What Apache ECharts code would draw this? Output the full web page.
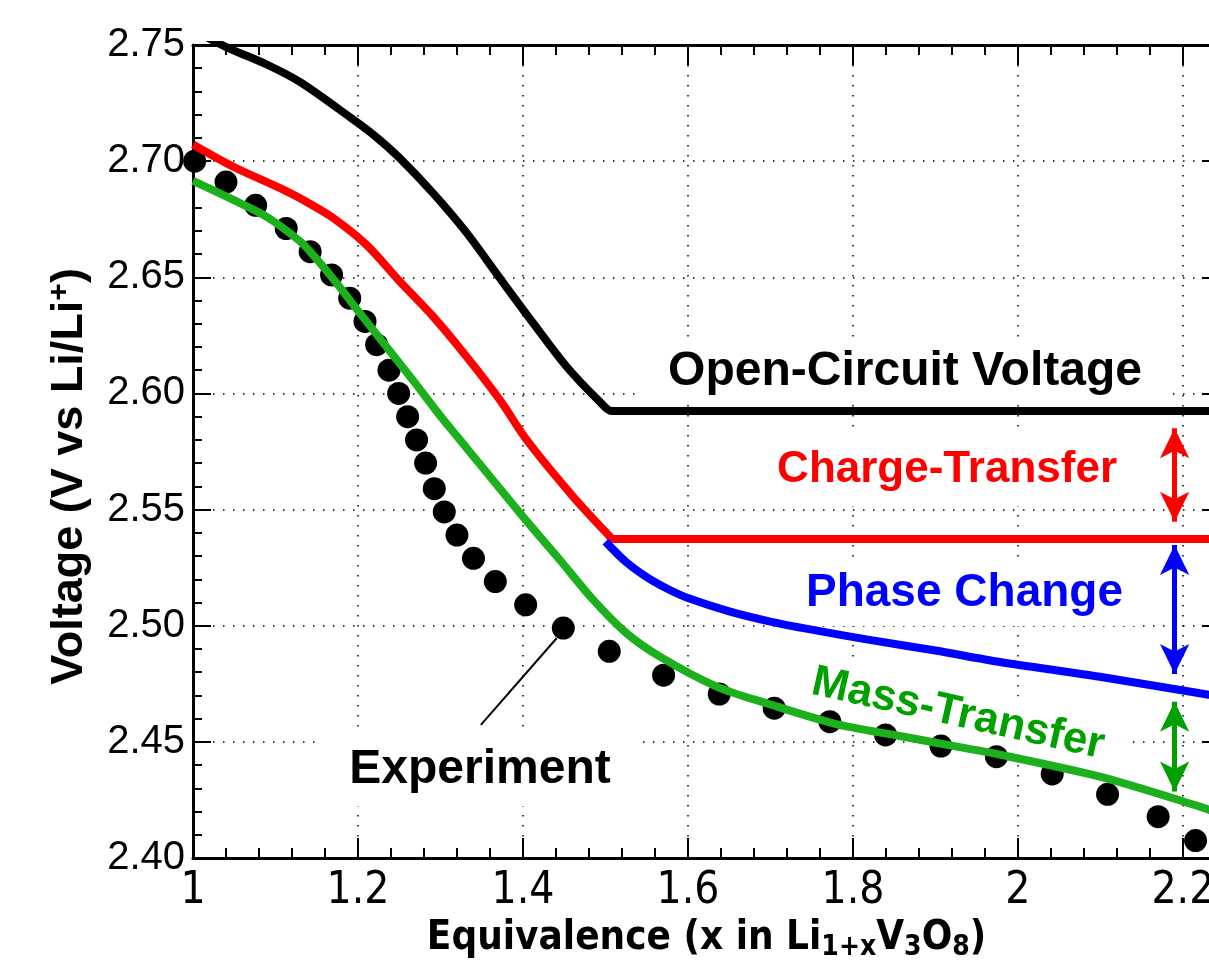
<!DOCTYPE html>
<html>
<head>
<meta charset="utf-8">
<title>Li1+xV3O8 discharge</title>
<script src="https://cdn.jsdelivr.net/npm/echarts@6/dist/echarts.min.js"></script>
<style>html,body{margin:0;padding:0;background:#fff}</style>
</head>
<body>
<div id="main" style="width:1209px;height:968px"></div>
<script>
// experiment points (x, voltage)
var expX = [1.002, 1.040, 1.076, 1.113, 1.142, 1.168, 1.190, 1.2085, 1.2226, 1.2376, 1.2493, 1.2602, 1.271,
            1.282, 1.2925, 1.3046, 1.320, 1.340, 1.3665, 1.4033, 1.4489, 1.5046, 1.5705, 1.638, 1.7046,
            1.772, 1.8396, 1.9067, 1.974, 2.0416, 2.1087, 2.170, 2.2154];
var expV = [2.700, 2.691, 2.681, 2.671, 2.661, 2.651, 2.641, 2.631, 2.621, 2.610, 2.600, 2.590, 2.580,
            2.570, 2.559, 2.549, 2.539, 2.529, 2.519, 2.509, 2.499, 2.489, 2.4787, 2.4706, 2.4645,
            2.4587, 2.4530, 2.4482, 2.4436, 2.4362, 2.4274, 2.4178, 2.4075];

// open-circuit voltage
var ocvX = [1.0, 1.041, 1.09, 1.13, 1.19, 1.22, 1.25, 1.291, 1.332, 1.372, 1.4125, 1.453, 1.4933, 1.508, 2.245];
var ocvV = [2.7565, 2.749, 2.7415, 2.734, 2.719, 2.711, 2.7015, 2.6862, 2.669, 2.6496, 2.6302, 2.6115, 2.5964, 2.5924, 2.5924];

// with charge-transfer loss
var ctX = [1.0, 1.049, 1.11, 1.14, 1.17, 1.2105, 1.251, 1.2913, 1.3317, 1.372, 1.4045, 1.461, 1.5055, 1.509, 2.245];
var ctV = [2.7072, 2.6976, 2.6876, 2.682, 2.6755, 2.6639, 2.6481, 2.633, 2.6158, 2.5972, 2.58, 2.5555, 2.5383, 2.5373, 2.5373];

// with phase change
var pcX = [1.50, 1.525, 1.55, 1.575, 1.60, 1.65, 1.70, 1.75, 1.8166, 1.90, 1.978, 2.0994, 2.2206, 2.245];
var pcV = [2.5362, 2.5274, 2.5209, 2.5159, 2.5119, 2.5062, 2.5018, 2.4983, 2.4941, 2.4893, 2.4844, 2.4780, 2.4709, 2.4695];

// with mass-transfer
var mtX = [1.0, 1.049, 1.089, 1.1297, 1.1458, 1.1742, 1.2024, 1.2347, 1.267, 1.2994, 1.3236, 1.364, 1.4045,
           1.4448, 1.4852, 1.5257, 1.566, 1.6347, 1.6954, 1.7761, 1.857, 1.9378, 1.978, 2.0994, 2.2206, 2.245];
var mtV = [2.6915, 2.6833, 2.6761, 2.6655, 2.6595, 2.6474, 2.6345, 2.6200, 2.6055, 2.5905, 2.580, 2.5625, 2.5450,
           2.5283, 2.5111, 2.4967, 2.4867, 2.4738, 2.4666, 2.458, 2.4525, 2.4472, 2.4445, 2.435, 2.4221, 2.419];

// double arrows at x = arrowX: [from, to]
var arrowX = 2.19;
var ctArrow = [2.5850, 2.5448];
var pcArrow = [2.5348, 2.4792];
var mtArrow = [2.4673, 2.4286];
// leader line to the experiment label
var leader = [[1.349, 2.4573], [1.4408, 2.4946]];

function pairs(xs, ys) {
    var out = [];
    for (var i = 0; i < xs.length; i++) out.push([xs[i], ys[i]]);
    return out;
}
function arrow(r, color) {
    return {
        silent: true,
        symbol: ['arrow', 'arrow'],
        symbolSize: [22, 30],
        label: {show: false},
        lineStyle: {color: color, width: 5, type: 'solid'},
        data: [[{coord: [arrowX, r[0]]}, {coord: [arrowX, r[1]]}]]
    };
}

var font = '"Liberation Sans", Arial, Helvetica, sans-serif';
var narrow = '"Liberation Sans Narrow", "Arial Narrow", "DejaVu Sans Condensed", "Liberation Sans", sans-serif';

var xTicks = {
    axisLine: {show: true, lineStyle: {color: '#000', width: 3}},
    axisTick: {show: true, inside: true, length: 20, lineStyle: {color: '#000', width: 2}},
    minorTick: {show: true, splitNumber: 5, length: 10, lineStyle: {color: '#000', width: 2}}
};
var yTicks = {
    axisLine: {show: true, lineStyle: {color: '#000', width: 3}},
    axisTick: {show: true, inside: true, length: 18, lineStyle: {color: '#000', width: 2}},
    minorTick: {show: true, splitNumber: 5, length: 9, lineStyle: {color: '#000', width: 2}}
};
var dots = {show: true, lineStyle: {color: '#000', width: 1.5, type: [1.5, 8.5]}};
var curve = {showSymbol: false, z: 3, smooth: 0.3};

var myChart = echarts.init(document.getElementById('main'));
var option = {
    animation: false,
    backgroundColor: '#fff',
    grid: {left: 193, top: 45, width: 1027, height: 813, outerBoundsMode: 'none', containLabel: false},
    xAxis: [
        Object.assign({
            type: 'value', min: 1, max: 2.245, interval: 0.2,
            axisLabel: {color: '#000', fontFamily: narrow, fontSize: 44, margin: 12, showMaxLabel: false},
            splitLine: dots,
            name: '{a|Equivalence (x in Li}{s|1+x}{a|V}{s|3}{a|O}{s|8}{a|)}',
            nameLocation: 'middle', nameGap: 55,
            nameTextStyle: {
                rich: {
                    a: {fontFamily: narrow, fontWeight: 'bold', fontSize: 40, lineHeight: 46, color: '#000'},
                    s: {fontFamily: narrow, fontWeight: 'bold', fontSize: 28, lineHeight: 16, verticalAlign: 'bottom', color: '#000'}
                }
            }
        }, xTicks),
        Object.assign({
            type: 'value', position: 'top', min: 1, max: 2.245, interval: 0.2,
            axisLabel: {show: false}, splitLine: {show: false}
        }, xTicks)
    ],
    yAxis: [
        Object.assign({
            type: 'value', min: 2.40, max: 2.75, interval: 0.05,
            axisLabel: {color: '#000', fontFamily: font, fontSize: 40, margin: 8,
                formatter: function (v) { return v.toFixed(2); }},
            splitLine: dots,
            name: '{a|Voltage (V vs Li/Li}{p|+}{a|)}',
            nameLocation: 'middle', nameGap: 98, nameRotate: 90,
            nameTextStyle: {
                padding: [0, 50, 0, 0],
                rich: {
                    a: {fontFamily: font, fontWeight: 'bold', fontSize: 45, lineHeight: 50, color: '#000'},
                    p: {fontFamily: font, fontWeight: 'bold', fontSize: 30, lineHeight: 26, verticalAlign: 'top', color: '#000'}
                }
            }
        }, yTicks),
        Object.assign({
            type: 'value', position: 'right', min: 2.40, max: 2.75, interval: 0.05,
            axisLabel: {show: false}, splitLine: {show: false}
        }, yTicks)
    ],
    graphic: [
        {type: 'text', x: 905, y: 372, z: 1, style: {text: 'Open-Circuit Voltage', font: 'bold 48px ' + font,
            fill: '#000', textAlign: 'center', textVerticalAlign: 'middle', backgroundColor: '#fff', padding: [6, 30]}},
        {type: 'text', x: 1137, y: 470, z: 1, style: {text: 'Charge-Transfer', font: 'bold 44px ' + font,
            fill: '#ff0000', textAlign: 'right', textVerticalAlign: 'middle', backgroundColor: '#fff', padding: [14, 20]}},
        {type: 'text', x: 1143, y: 593, z: 1, style: {text: 'Phase Change', font: 'bold 46px ' + font,
            fill: '#0000ff', textAlign: 'right', textVerticalAlign: 'middle', backgroundColor: '#fff', padding: [10, 20]}},
        {type: 'text', x: 958, y: 714, z: 1, rotation: -12.5 * Math.PI / 180, style: {text: 'Mass-Transfer',
            font: 'bold 44px ' + font, fill: '#00a000', textAlign: 'center', textVerticalAlign: 'middle',
            backgroundColor: '#fff', padding: [8, 20]}},
        {type: 'text', x: 480, y: 770, z: 1, style: {text: 'Experiment', font: 'bold 48px ' + font,
            fill: '#000', textAlign: 'center', textVerticalAlign: 'middle', backgroundColor: '#fff', padding: [12, 28]}}
    ],
    series: [
        {
            name: 'Experiment', type: 'scatter', data: pairs(expX, expV), clip: false,
            symbol: 'circle', symbolSize: 23, itemStyle: {color: '#000', opacity: 1}, z: 2,
            markLine: {
                silent: true, symbol: ['none', 'none'], label: {show: false},
                lineStyle: {color: '#000', width: 2, type: 'solid'},
                data: [[{coord: leader[0]}, {coord: leader[1]}]]
            }
        },
        Object.assign({name: 'Open-Circuit Voltage', type: 'line', data: pairs(ocvX, ocvV),
            lineStyle: {color: '#000', width: 8}}, curve),
        Object.assign({name: 'Charge-Transfer', type: 'line', data: pairs(ctX, ctV),
            lineStyle: {color: '#ff0000', width: 8}, markLine: arrow(ctArrow, '#ff0000')}, curve),
        Object.assign({name: 'Phase Change', type: 'line', data: pairs(pcX, pcV),
            lineStyle: {color: '#0000ff', width: 8}, markLine: arrow(pcArrow, '#0000ff')}, curve),
        Object.assign({name: 'Mass-Transfer', type: 'line', data: pairs(mtX, mtV),
            lineStyle: {color: '#1cb01c', width: 8}, markLine: arrow(mtArrow, '#00a000')}, curve)
    ]
};
myChart.setOption(option);
</script>
</body>
</html>
